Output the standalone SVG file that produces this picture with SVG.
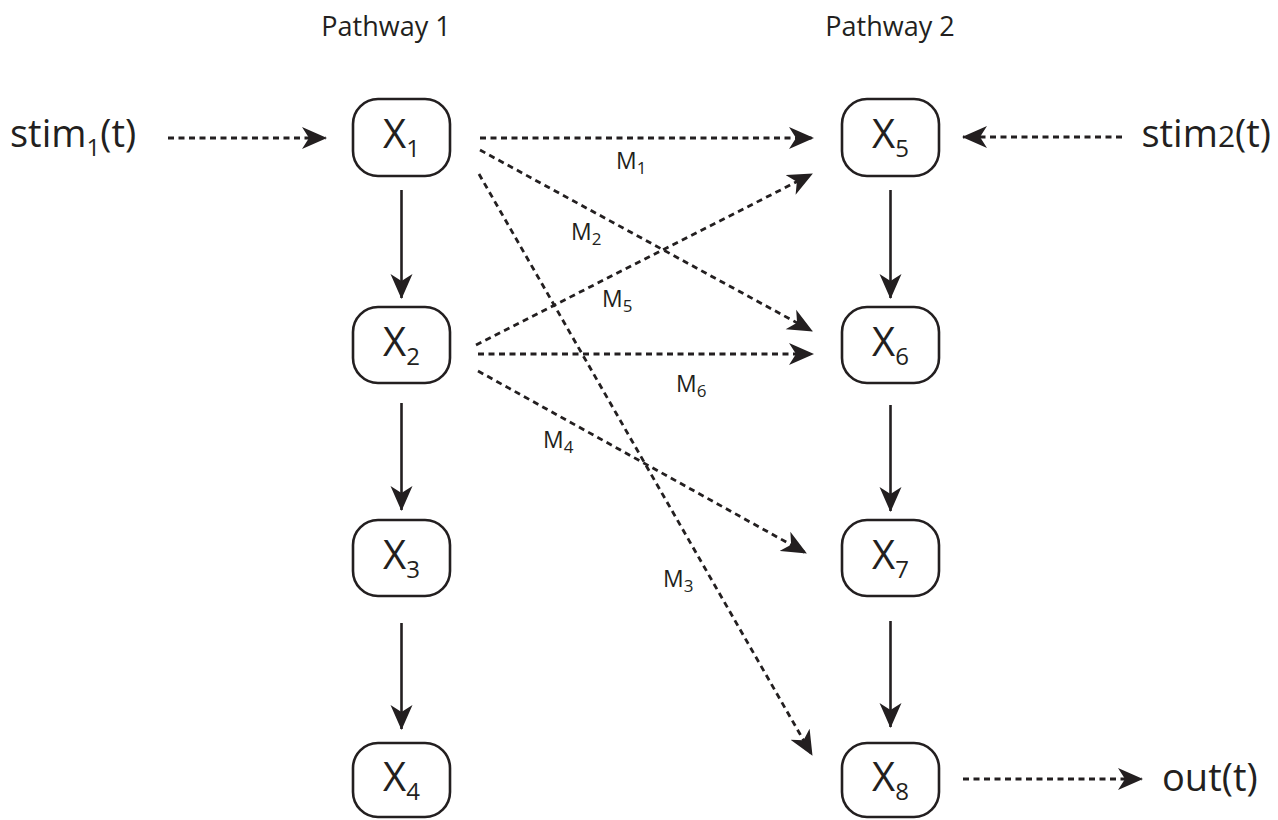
<svg xmlns="http://www.w3.org/2000/svg" width="1278" height="820" viewBox="0 0 1278 820">
<style>
text{font-family:"Open Sans","Noto Sans",sans-serif;fill:#231f20}
.node rect{fill:#fff;stroke:#231f20;stroke-width:2.6}
.lbl{font-size:40px}
.sub{font-size:24px}
.m{font-size:23px}
.ms{font-size:17px}
.side{font-size:38px}
.head{font-size:27px}
.solid{stroke:#231f20;stroke-width:2.6;fill:none;marker-end:url(#ah)}
.dash{stroke:#231f20;stroke-width:2.8;fill:none;stroke-dasharray:6 4.5;marker-end:url(#ah)}
</style>
<defs>
<marker id="ah" markerWidth="25" markerHeight="23" refX="24" refY="11.5" orient="auto" markerUnits="userSpaceOnUse" viewBox="0 0 25 23">
<path d="M25,11.5 L0,0.5 L7,11.5 L0,22.5 Z" fill="#231f20"/>
</marker>
</defs>
<rect width="1278" height="820" fill="#fff"/>
<text class="head" x="386" y="36" text-anchor="middle">Pathway 1</text>
<text class="head" x="890" y="36" text-anchor="middle">Pathway 2</text>
<text class="side" x="10" y="147">stim<tspan class="sub" dy="9">1</tspan><tspan dy="-9">(t)</tspan></text>
<text class="side" x="1271" y="147" text-anchor="end">stim<tspan font-size="30px">2</tspan>(t)</text>
<text class="side" x="1162" y="791">out(t)</text>
<g id="connectors">
<line class="dash" x1="168" y1="138" x2="326" y2="138"/>
<line class="dash" x1="1122" y1="137" x2="963" y2="137"/>
<line class="dash" x1="963" y1="779" x2="1142" y2="779"/>
<line class="dash" x1="480" y1="138" x2="813" y2="138"/>
<line class="dash" x1="480" y1="150" x2="812" y2="331"/>
<line class="dash" x1="479" y1="174" x2="812" y2="755"/>
<line class="dash" x1="476" y1="345" x2="812" y2="174"/>
<line class="dash" x1="478" y1="354" x2="813" y2="354"/>
<line class="dash" x1="478" y1="371" x2="806" y2="553"/>
<line class="solid" x1="401.5" y1="190" x2="401.5" y2="298"/>
<line class="solid" x1="401.5" y1="403" x2="401.5" y2="510"/>
<line class="solid" x1="401.5" y1="623" x2="401.5" y2="729"/>
<line class="solid" x1="890.5" y1="190" x2="890.5" y2="298"/>
<line class="solid" x1="890.5" y1="405" x2="890.5" y2="511"/>
<line class="solid" x1="890.5" y1="621" x2="890.5" y2="727"/>
</g>
<g id="labels">
<text class="m" x="616" y="169">M<tspan class="ms" dy="5">1</tspan></text>
<text class="m" x="571" y="240">M<tspan class="ms" dy="5">2</tspan></text>
<text class="m" x="602" y="307">M<tspan class="ms" dy="5">5</tspan></text>
<text class="m" x="676" y="392">M<tspan class="ms" dy="5">6</tspan></text>
<text class="m" x="543" y="448">M<tspan class="ms" dy="5">4</tspan></text>
<text class="m" x="663" y="587">M<tspan class="ms" dy="5">3</tspan></text>
</g>
<g id="X1" class="node"><rect x="353" y="99" width="97" height="77" rx="25"/><text class="lbl" x="401.5" y="148" text-anchor="middle">X<tspan class="sub" dy="9">1</tspan></text></g>
<g id="X2" class="node"><rect x="353" y="307" width="97" height="76" rx="25"/><text class="lbl" x="401.5" y="356" text-anchor="middle">X<tspan class="sub" dy="9">2</tspan></text></g>
<g id="X3" class="node"><rect x="353" y="520" width="97" height="76" rx="25"/><text class="lbl" x="401.5" y="569" text-anchor="middle">X<tspan class="sub" dy="9">3</tspan></text></g>
<g id="X4" class="node"><rect x="353" y="743" width="97" height="74" rx="25"/><text class="lbl" x="401.5" y="791" text-anchor="middle">X<tspan class="sub" dy="9">4</tspan></text></g>
<g id="X5" class="node"><rect x="842" y="99" width="97" height="77" rx="25"/><text class="lbl" x="890.5" y="148" text-anchor="middle">X<tspan class="sub" dy="9">5</tspan></text></g>
<g id="X6" class="node"><rect x="842" y="307" width="97" height="76" rx="25"/><text class="lbl" x="890.5" y="356" text-anchor="middle">X<tspan class="sub" dy="9">6</tspan></text></g>
<g id="X7" class="node"><rect x="842" y="520" width="97" height="76" rx="25"/><text class="lbl" x="890.5" y="569" text-anchor="middle">X<tspan class="sub" dy="9">7</tspan></text></g>
<g id="X8" class="node"><rect x="842" y="743" width="97" height="74" rx="25"/><text class="lbl" x="890.5" y="791" text-anchor="middle">X<tspan class="sub" dy="9">8</tspan></text></g>
</svg>
